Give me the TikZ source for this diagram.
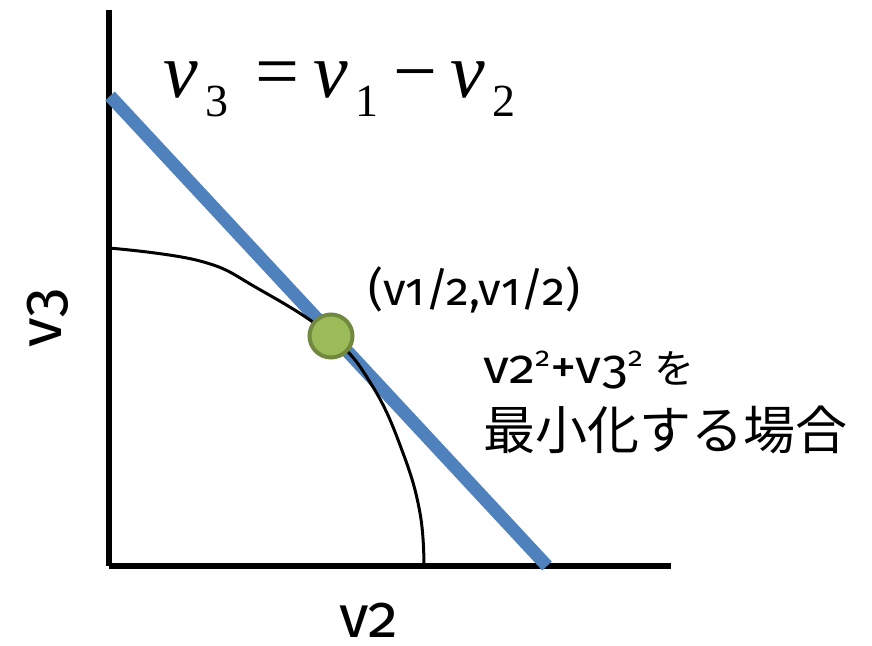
\documentclass[tikz,border=0pt]{standalone}
\usepackage{fontspec}
\setmainfont{Fira Sans}[Numbers=OldStyle]
\newfontfamily\tnr{Liberation Serif}
\newfontfamily\jp{Noto Sans CJK JP}
\definecolor{lineblue}{HTML}{4F81BD}
\definecolor{ptfill}{HTML}{9BBB59}
\definecolor{ptdraw}{HTML}{71893F}
\newcommand{\supr}[1]{\raisebox{17pt}{\fontsize{27}{27}\selectfont #1}}
\tikzset{
  axis/.style={line width=6pt, black},
  tangent/.style={line width=13pt, lineblue},
  curveline/.style={line width=3pt, black, line cap=round},
  dot/.style={circle, fill=ptfill, draw=ptdraw, line width=4pt, minimum size=43pt, inner sep=0pt},
  lbl/.style={inner sep=0pt, font=\fontsize{46}{46}\selectfont},
}
\begin{document}
\begin{tikzpicture}[x=1pt,y=-1pt]
\useasboundingbox (0,0) rectangle (872,645);
% axes
\coordinate (top) at (109,10);
\coordinate (origin) at (109,566);
\coordinate (right) at (671,566);
\draw[axis] (top) -- (origin);
\draw[axis] (origin) -- (right);
% tangent line
\coordinate (ta) at (110,96);
\coordinate (tb) at (547,566);
\draw[tangent] (ta) -- (tb);
% curve
\draw[curveline] plot[smooth, tension=0.7] coordinates {(109,248) (200,261) (257,288) (331,336) (373,387) (403,453) (420,513) (424,566)};
% point
\node[dot] (pt) at (331,336) {};
% equation
\node[anchor=base west, inner sep=0pt] (eq) at (163,97) {\tnr\fontsize{78}{78}\selectfont
  \makebox[42pt][l]{\itshape v}\makebox[50pt][l]{\raisebox{-19pt}{\fontsize{46}{46}\selectfont 3}}\makebox[58pt][l]{=}\makebox[42pt][l]{\itshape v}\makebox[38pt][l]{\raisebox{-19pt}{\fontsize{46}{46}\selectfont 1}}\makebox[57pt][l]{\char"2212}\makebox[42pt][l]{\itshape v}\raisebox{-19pt}{\fontsize{46}{46}\selectfont 2}};
% point label
\node[lbl, anchor=base west] (ptl) at (368,305) {(v1/2,v1/2)};
% minimisation label
\node[inner sep=0pt, anchor=base west] (m1) at (483,383) {\scalebox{1.1}[1]{\fontsize{48}{48}\selectfont v2\supr{2}+v3\supr{2}}\hspace{12pt}{\jp\fontsize{40}{40}\selectfont を}};
\node[inner sep=0pt, anchor=base west] (m2) at (483,449) {\jp\fontsize{52}{52}\selectfont 最小化する場合};
% axis labels
\node[inner sep=0pt, anchor=base, font=\fontsize{60}{60}\selectfont] (xl) at (369,637) {v2};
\node[inner sep=0pt, anchor=base, rotate=90, font=\fontsize{60}{60}\selectfont] (yl) at (61,318) {v3};
\end{tikzpicture}
\end{document}
